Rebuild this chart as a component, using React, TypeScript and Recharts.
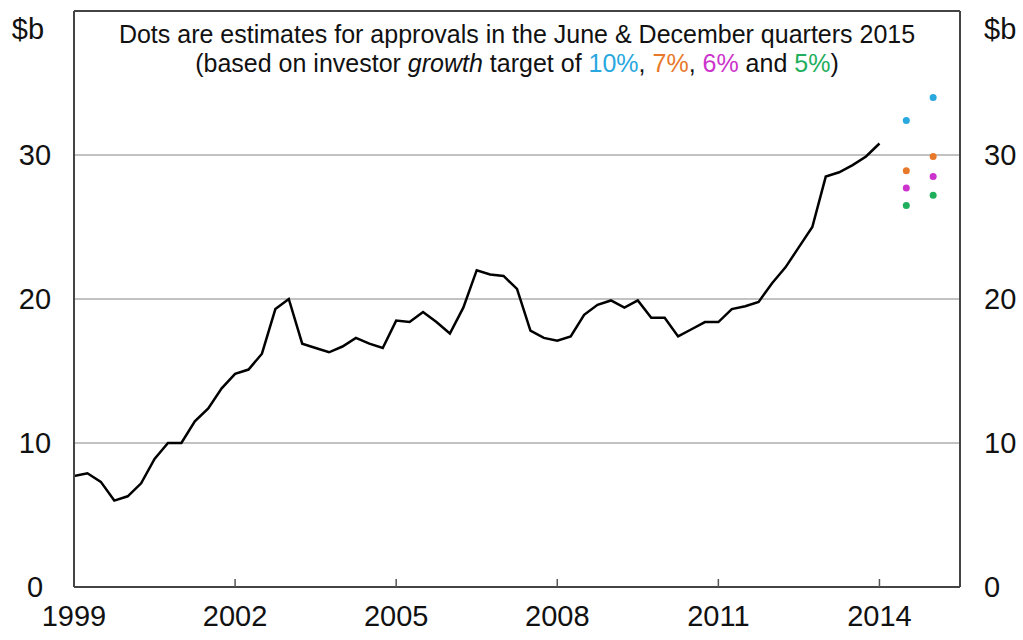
import React from 'react';
import {
  ComposedChart,
  Line,
  Scatter,
  XAxis,
  YAxis,
  CartesianGrid,
  ReferenceLine,
} from 'recharts';

// Quarterly housing loan approvals, $b, first quarter shown at the 1999 tick
const approvals = [
  7.7, 7.9, 7.3, 6.0, 6.3, 7.2, 8.9, 10.0, 10.0, 11.5, 12.4, 13.8,
  14.8, 15.1, 16.2, 19.3, 20.0, 16.9, 16.6, 16.3, 16.7, 17.3, 16.9, 16.6,
  18.5, 18.4, 19.1, 18.4, 17.6, 19.4, 22.0, 21.7, 21.6, 20.7, 17.8, 17.3,
  17.1, 17.4, 18.9, 19.6, 19.9, 19.4, 19.9, 18.7, 18.7, 17.4, 17.9, 18.4,
  18.4, 19.3, 19.5, 19.8, 21.1, 22.2, 23.6, 25.0, 28.5, 28.8, 29.3, 29.9,
  30.8,
];

// June and December quarters 2015 (quarter index on the same scale)
const estimateQuarters = [62, 64];
const est10 = [32.4, 34.0];
const est7 = [28.9, 29.9];
const est6 = [27.7, 28.5];
const est5 = [26.5, 27.2];

const yearTickQuarters = [0, 12, 24, 36, 48, 60];
const yearLabels = ['1999', '2002', '2005', '2008', '2011', '2014'];
const valueTicks = [0, 10, 20, 30, 40];

const BLUE = '#29a8e0';
const ORANGE = '#e8792a';
const MAGENTA = '#cc33cc';
const GREEN = '#1fae5c';

const FONT = '"Liberation Sans", Arial, sans-serif';

const lineData = approvals.map((v, i) => ({ q: i, v }));
const toPoints = (vals: number[]) => vals.map((v, i) => ({ q: estimateQuarters[i], v }));

const estimates = [
  { name: '10%', color: BLUE, data: toPoints(est10) },
  { name: '7%', color: ORANGE, data: toPoints(est7) },
  { name: '6%', color: MAGENTA, data: toPoints(est6) },
  { name: '5%', color: GREEN, data: toPoints(est5) },
];

const XTick = (props: any) => {
  const { x, y, payload } = props;
  const idx = yearTickQuarters.indexOf(payload.value);
  return (
    <g>
      {payload.value !== 0 && (
        <line x1={x} x2={x} y1={y} y2={y - 8} stroke="#555" strokeWidth={1.5} />
      )}
      <text x={x} y={y + 39} textAnchor="middle" fill="#111" fontSize={29} fontFamily={FONT}>
        {yearLabels[idx]}
      </text>
    </g>
  );
};

const LeftTick = (props: any) => {
  const { x, y, payload } = props;
  const isUnit = payload.value === 40;
  return (
    <text
      x={isUnit ? x - 46 : x - 39}
      y={isUnit ? y + 18 : y}
      textAnchor="middle"
      dominantBaseline="central"
      fill="#111"
      fontSize={29}
      fontFamily={FONT}
    >
      {isUnit ? '$b' : payload.value}
    </text>
  );
};

const RightTick = (props: any) => {
  const { x, y, payload } = props;
  const isUnit = payload.value === 40;
  return (
    <text
      x={x + 24}
      y={isUnit ? y + 18 : y}
      textAnchor="start"
      dominantBaseline="central"
      fill="#111"
      fontSize={29}
      fontFamily={FONT}
    >
      {isUnit ? '$b' : payload.value}
    </text>
  );
};

export default function App() {
  return (
    <div style={{ position: 'absolute', left: 0, top: 0, width: 1023, height: 640, background: '#fff' }}>
      <ComposedChart width={1023} height={640} margin={{ top: 11, right: 0, bottom: 0, left: 0 }}>
        <CartesianGrid
          yAxisId="left"
          vertical={false}
          horizontalValues={[10, 20, 30]}
          stroke="#c2c2c2"
          strokeWidth={2}
        />
        <XAxis
          dataKey="q"
          type="number"
          domain={[0, 66]}
          ticks={yearTickQuarters}
          height={53}
          tickSize={0}
          tickMargin={0}
          tickLine={false}
          axisLine={{ stroke: '#444', strokeWidth: 2 }}
          tick={<XTick />}
          interval={0}
          allowDataOverflow
        />
        <YAxis
          yAxisId="left"
          dataKey="v"
          type="number"
          domain={[0, 40]}
          ticks={valueTicks}
          width={74}
          tickSize={0}
          tickMargin={0}
          tickLine={false}
          axisLine={{ stroke: '#444', strokeWidth: 2 }}
          tick={<LeftTick />}
          interval={0}
        />
        <YAxis
          yAxisId="right"
          orientation="right"
          dataKey="v"
          type="number"
          domain={[0, 40]}
          ticks={valueTicks}
          width={63}
          tickSize={0}
          tickMargin={0}
          tickLine={false}
          axisLine={{ stroke: '#444', strokeWidth: 2 }}
          tick={<RightTick />}
          interval={0}
        />
        <ReferenceLine yAxisId="left" y={40} stroke="#444" strokeWidth={2} />
        <Line
          yAxisId="left"
          data={lineData}
          dataKey="v"
          type="linear"
          stroke="#000"
          strokeWidth={2.5}
          dot={false}
          isAnimationActive={false}
        />
        {estimates.map((s) => (
          <Scatter
            key={s.name}
            yAxisId="right"
            name={s.name}
            data={s.data}
            dataKey="v"
            fill={s.color}
            isAnimationActive={false}
            shape={(p: any) => <circle cx={p.cx} cy={p.cy} r={3.5} fill={s.color} />}
          />
        ))}
      </ComposedChart>
      <div
        style={{
          position: 'absolute',
          left: 74,
          top: 20,
          width: 886,
          textAlign: 'center',
          fontFamily: FONT,
          fontSize: 25,
          lineHeight: '29px',
          color: '#111',
        }}
      >
        <div>Dots are estimates for approvals in the June &amp; December quarters 2015</div>
        <div>
          (based on investor <i>growth</i> target of <span style={{ color: BLUE }}>10%</span>,{' '}
          <span style={{ color: ORANGE }}>7%</span>, <span style={{ color: MAGENTA }}>6%</span> and{' '}
          <span style={{ color: GREEN }}>5%</span>)
        </div>
      </div>
    </div>
  );
}
